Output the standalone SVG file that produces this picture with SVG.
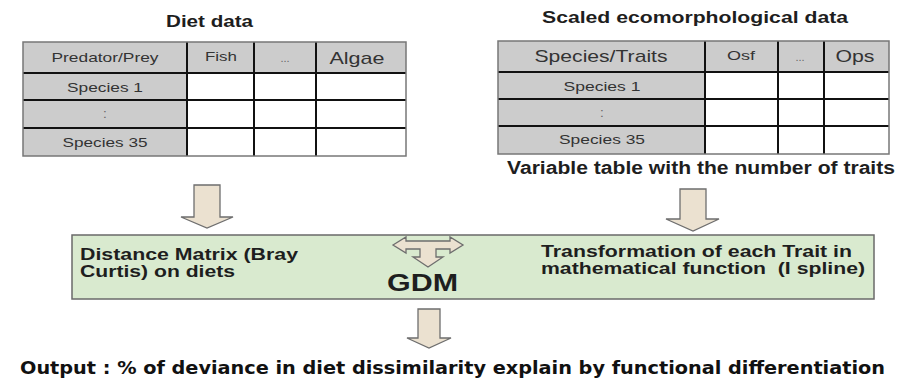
<svg xmlns="http://www.w3.org/2000/svg" width="900" height="385" viewBox="0 0 900 385">
  <style>
    .title { font-family: "Liberation Sans", Arial, sans-serif; font-weight: bold; fill: #1e1e1e; }
    .cell { font-family: "Liberation Sans", Arial, sans-serif; fill: #333; text-anchor: middle; }
    .dots { fill: #666; }
    .hdr { fill: #cccccc; }
    .blank { fill: #ffffff; }
    .grid { fill: none; stroke: #111; stroke-width: 2; }
    .frame { fill: none; stroke: #777; stroke-width: 1.5; }
    .arrow { fill: #ebe1d0; stroke: #6e6e6e; stroke-width: 1.3; stroke-linejoin: miter; }
    .panel { fill: #d9eacf; stroke: #6a6a6a; stroke-width: 1.5; }
    .out { font-family: "DejaVu Sans Condensed", "DejaVu Sans", sans-serif; font-weight: bold; font-stretch: condensed; fill: #111; }
  </style>

  <!-- Diet data table -->
  <g id="diet-table">
    <text class="title" x="166" y="27" font-size="17" textLength="87" lengthAdjust="spacingAndGlyphs">Diet data</text>
    <rect class="hdr" x="23" y="42" width="383" height="31"/>
    <rect class="hdr" x="23" y="73" width="164" height="83"/>
    <rect class="blank" x="187" y="73" width="219" height="83"/>
    <path class="grid" d="M23 73H406M23 100H406M23 128H406M187 42V156M254 42V156M316 42V156"/>
    <rect class="frame" x="23" y="42" width="383" height="114"/>
    <text class="cell" x="105" y="62" font-size="13.5" textLength="107" lengthAdjust="spacingAndGlyphs">Predator/Prey</text>
    <text class="cell" x="221" y="61" font-size="13.5" textLength="32" lengthAdjust="spacingAndGlyphs">Fish</text>
    <text class="cell dots" x="285" y="62" font-size="11">...</text>
    <text class="cell" x="357" y="64" font-size="17" textLength="55" lengthAdjust="spacingAndGlyphs">Algae</text>
    <text class="cell" x="105" y="92" font-size="13.5" textLength="76" lengthAdjust="spacingAndGlyphs">Species 1</text>
    <text class="cell dots" x="105" y="118" font-size="13.5">:</text>
    <text class="cell" x="105" y="147" font-size="13.5" textLength="85" lengthAdjust="spacingAndGlyphs">Species 35</text>
  </g>

  <!-- Scaled ecomorphological data table -->
  <g id="traits-table">
    <text class="title" x="542" y="23" font-size="17" textLength="306" lengthAdjust="spacingAndGlyphs">Scaled ecomorphological data</text>
    <rect class="hdr" x="498" y="41" width="391" height="31"/>
    <rect class="hdr" x="498" y="72" width="207" height="82"/>
    <rect class="blank" x="705" y="72" width="184" height="82"/>
    <path class="grid" d="M498 72H889M498 99H889M498 126H889M705 41V154M778 41V154M824 41V154"/>
    <rect class="frame" x="498" y="41" width="391" height="113"/>
    <text class="cell" x="601" y="62" font-size="17" textLength="133" lengthAdjust="spacingAndGlyphs">Species/Traits</text>
    <text class="cell" x="741" y="60" font-size="12.5" textLength="28" lengthAdjust="spacingAndGlyphs">Osf</text>
    <text class="cell dots" x="800" y="61" font-size="11">...</text>
    <text class="cell" x="855" y="62" font-size="17" textLength="39" lengthAdjust="spacingAndGlyphs">Ops</text>
    <text class="cell" x="602" y="91" font-size="13.5" textLength="77" lengthAdjust="spacingAndGlyphs">Species 1</text>
    <text class="cell dots" x="602" y="117" font-size="13.5">:</text>
    <text class="cell" x="602" y="144" font-size="13.5" textLength="86" lengthAdjust="spacingAndGlyphs">Species 35</text>
    <text class="title" x="507" y="174" font-size="18" textLength="388" lengthAdjust="spacingAndGlyphs">Variable table with the number of traits</text>
  </g>

  <!-- GDM panel -->
  <g id="gdm">
    <rect class="panel" x="72" y="235" width="802" height="64"/>
    <text class="title" x="80" y="260" font-size="16" textLength="218" lengthAdjust="spacingAndGlyphs">Distance Matrix (Bray</text>
    <text class="title" x="80" y="277" font-size="16" textLength="155" lengthAdjust="spacingAndGlyphs">Curtis) on diets</text>
    <text class="title" x="541" y="257" font-size="16" textLength="311" lengthAdjust="spacingAndGlyphs">Transformation of each Trait in</text>
    <text class="title" x="541" y="274" font-size="16" textLength="324" lengthAdjust="spacingAndGlyphs" xml:space="preserve">mathematical function  (I spline)</text>
    <text class="title" x="387" y="291" font-size="24" textLength="71" lengthAdjust="spacingAndGlyphs">GDM</text>
    <!-- left/right/down arrow between the two inputs -->
    <path class="arrow" d="M393 245L406 237V241H450V237L463 245L450 253V249H436V257H443L428 267L413 257H420V249H406V253Z"/>
  </g>

  <!-- Output -->
  <g id="output">
    <text class="out" x="20" y="374" font-size="18" textLength="865" lengthAdjust="spacingAndGlyphs">Output : % of deviance in diet dissimilarity explain by functional differentiation</text>
  </g>

  <!-- Connectors: block arrows -->
  <g id="connectors">
    <path class="arrow" d="M194 185H220V217H233L207 228L181 217H194Z"/>
    <path class="arrow" d="M680 189H706V219H719L693 231L666 219H680Z"/>
    <path class="arrow" d="M418 309H440V338H451L429 348L407 338H418Z"/>
  </g>
</svg>
